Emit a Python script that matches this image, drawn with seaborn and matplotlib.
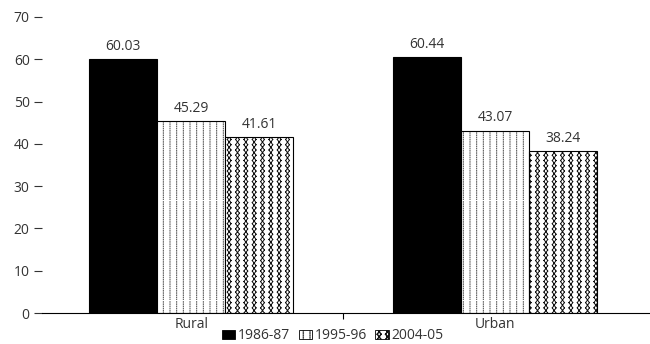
import matplotlib
matplotlib.use("Agg")
import numpy as np
import matplotlib.pyplot as plt
import matplotlib.patches as mpatches
import matplotlib.hatch as mhatch
from matplotlib.path import Path
import seaborn as sns
import pandas as pd

areas = ["Rural", "Urban"]
periods = ["1986-87", "1995-96", "2004-05"]
v_1986 = [60.03, 60.44]
v_1995 = [45.29, 43.07]
v_2004 = [41.61, 38.24]
y_ticks = [0, 10, 20, 30, 40, 50, 60, 70]


# Custom hatch fills: '.' -> columns of fine dots, '*' -> vertical chains of diamonds
class DottedColumns(mhatch.HatchPatternBase):
    def __init__(self, hatch, density):
        n = hatch.count('.')
        self.num_cols = 15 * n
        self.num_dots = 45
        self.num_vertices = self.num_cols * self.num_dots * 2

    def set_vertices_and_codes(self, vertices, codes):
        k = 0
        for i in range(self.num_cols):
            x = (i + 0.5) / self.num_cols
            for j in range(self.num_dots):
                y0 = j / self.num_dots
                vertices[k] = (x, y0)
                vertices[k + 1] = (x, y0 + 0.006)
                codes[k] = Path.MOVETO
                codes[k + 1] = Path.LINETO
                k += 2


class DiamondChains(mhatch.HatchPatternBase):
    def __init__(self, hatch, density):
        n = hatch.count('*')
        self.num_cols = 12 * n
        self.num_rows = 19
        self.half_w = 0.019
        self.num_vertices = self.num_cols * self.num_rows * 8

    def set_vertices_and_codes(self, vertices, codes):
        k = 0
        h = 1.0 / self.num_rows
        w = self.half_w
        for i in range(self.num_cols):
            x = (i + 0.5) / self.num_cols
            for j in range(self.num_rows):
                y0 = j * h
                top = (x, y0)
                mid_l = (x - w, y0 + h / 2)
                mid_r = (x + w, y0 + h / 2)
                bot = (x, y0 + h)
                for a, b in ((top, mid_l), (mid_l, bot), (top, mid_r), (mid_r, bot)):
                    vertices[k] = a
                    vertices[k + 1] = b
                    codes[k] = Path.MOVETO
                    codes[k + 1] = Path.LINETO
                    k += 2


mhatch._hatch_types = [t for t in mhatch._hatch_types
                       if t not in (mhatch.SmallFilledCircles, mhatch.Stars)]
mhatch._hatch_types += [DottedColumns, DiamondChains]

rows = []
for p, vals in zip(periods, [v_1986, v_1995, v_2004]):
    for a, v in zip(areas, vals):
        rows.append({"area": a, "period": p, "value": v})
df = pd.DataFrame(rows)

sns.set_theme(style="white")
plt.rcParams["font.family"] = ["Open Sans", "DejaVu Sans"]

fig = plt.figure(figsize=(6.5, 3.44), dpi=100)
ax = fig.add_axes([0.065, 0.09, 0.935, 0.8606])

fills = ["black", "white", "white"]
hatches = [None, ".", "*"]
hatch_cols = ["black", "#444444", "#111111"]
hatch_lws = [0.6, 0.7, 0.7]


def style_patch(p, h, hc, lw):
    p.set_edgecolor("black")
    p.set_linewidth(0.8)
    if h:
        p.set_hatch(h)
        if hasattr(p, "set_hatchcolor"):
            p.set_hatchcolor(hc)
        else:
            p._hatch_color = matplotlib.colors.to_rgba(hc)
        if hasattr(p, "set_hatch_linewidth"):
            p.set_hatch_linewidth(lw)
        else:
            p._hatch_linewidth = lw


sns.barplot(data=df, x="area", y="value", hue="period", hue_order=periods,
            order=areas, width=0.67, palette=fills, ax=ax, legend=False,
            edgecolor="black", linewidth=0.8, saturation=1)

for cont, h, hc, lw in zip(ax.containers, hatches, hatch_cols, hatch_lws):
    for bar in cont:
        style_patch(bar, h, hc, lw)
    ax.bar_label(cont, fmt="%.2f", padding=4, fontsize=10, color="#333333")

ax.set_ylim(0, 70)
ax.set_xlim(-0.49, 1.51)
ax.set_yticks(y_ticks)
ax.set_yticklabels([str(t) for t in y_ticks])
ax.set_xticks([0, 1])
ax.set_xticklabels(areas)
ax.set_xticks([0.5], minor=True)
ax.tick_params(axis="x", which="major", length=0, pad=3, labelsize=10, labelcolor="#333333")
ax.tick_params(axis="x", which="minor", length=4, width=0.8, color="black", direction="out", bottom=True)
ax.tick_params(axis="y", length=6, width=0.8, color="#333333", direction="out", left=True,
               pad=3, labelsize=10, labelcolor="#333333")
ax.set_xlabel("")
ax.set_ylabel("")
for s in ["top", "right", "left"]:
    ax.spines[s].set_visible(False)
ax.spines["bottom"].set_color("black")
ax.spines["bottom"].set_linewidth(0.8)

handles = []
for f, h, hc, lw in zip(fills, hatches, hatch_cols, hatch_lws):
    hp = mpatches.Patch(facecolor=f, edgecolor="black", linewidth=0.6)
    style_patch(hp, h, hc, lw)
    hp.set_linewidth(0.6)
    handles.append(hp)
fig.legend(handles, periods, loc="lower center", bbox_to_anchor=(0.512, 0.0), ncol=3,
           frameon=False, fontsize=10, handlelength=0.95, handleheight=0.7,
           handletextpad=0.2, columnspacing=0.6, labelcolor="#333333",
           borderpad=0.05, borderaxespad=0.0)

fig.savefig("out.png", dpi=100)
